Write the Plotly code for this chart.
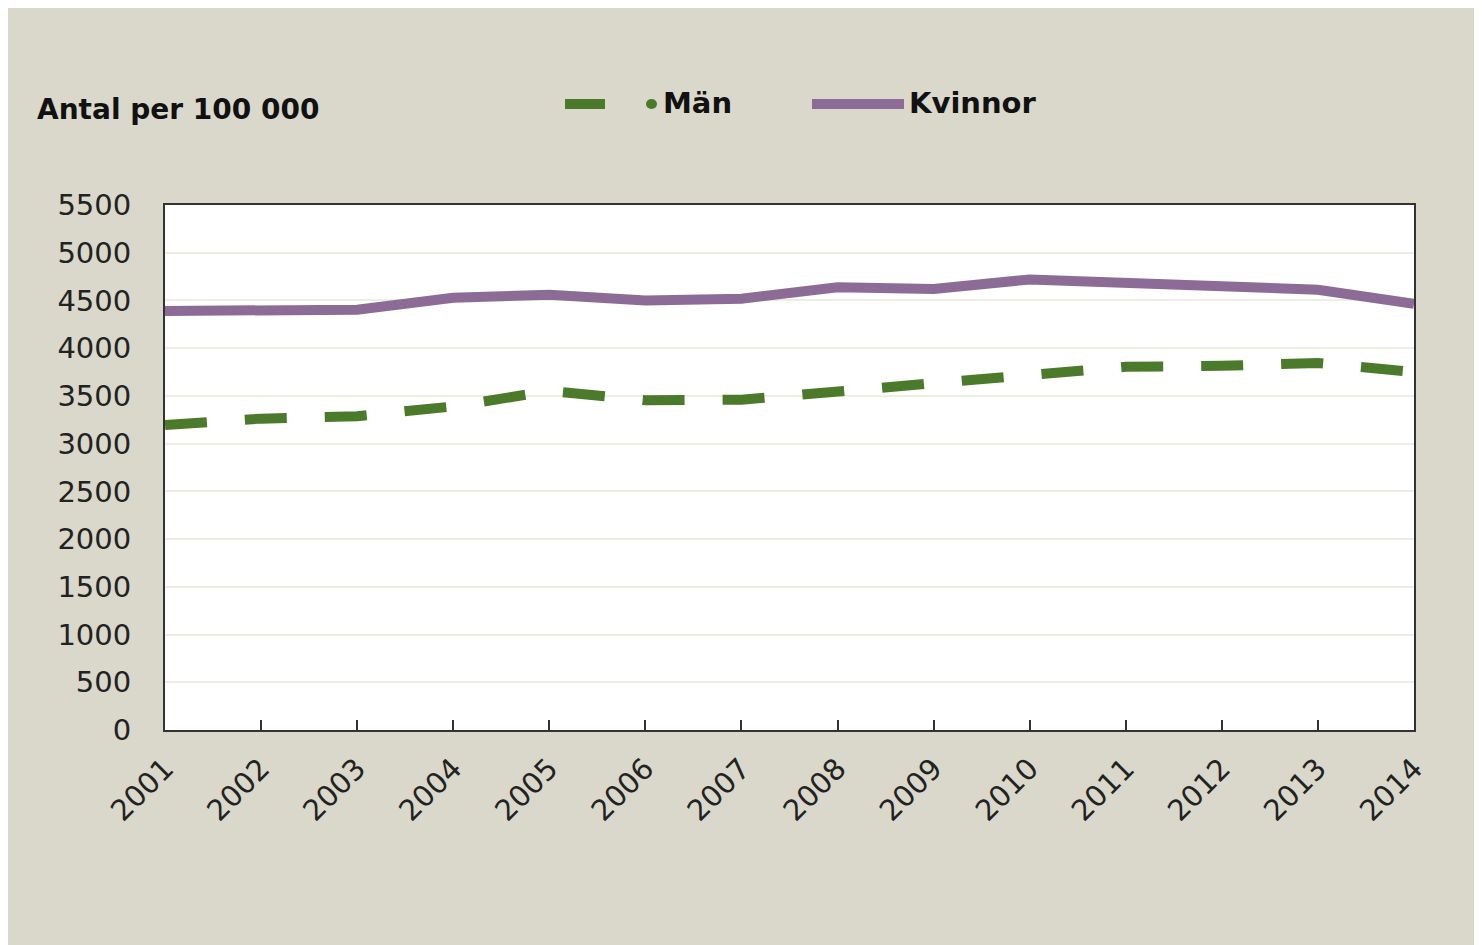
import plotly.graph_objects as go

years = [2001, 2002, 2003, 2004, 2005, 2006, 2007, 2008, 2009, 2010, 2011, 2012, 2013, 2014]
man = [3195, 3262, 3288, 3390, 3552, 3455, 3460, 3545, 3635, 3725, 3805, 3815, 3845, 3750]
kvinnor = [4390, 4390, 4403, 4528, 4560, 4500, 4518, 4638, 4620, 4720, 4682, 4646, 4612, 4465]
y_ticks = [0, 500, 1000, 1500, 2000, 2500, 3000, 3500, 4000, 4500, 5000, 5500]

BG = "#D9D8CB"
GREEN = "#4A7A2A"
PURPLE = "#8C6C97"
FONT = "DejaVu Sans"

# page has an 8px body margin, so the figure starts at (8, 8)
OFF = 8
W, H = 1490, 945
L, R, T, B = 157, 84, 197, 223
PW, PH = W - L - R, H - T - B

def px(x):
    # x in screen pixels -> paper fraction
    return (x - OFF - L) / PW

def py(y):
    return (H - B - (y - OFF)) / PH

fig = go.Figure()
fig.add_trace(go.Scatter(x=years, y=man, mode="lines", name="Män",
                         line=dict(color=GREEN, width=10, dash="42px,38px"),
                         showlegend=False))
fig.add_trace(go.Scatter(x=years, y=kvinnor, mode="lines", name="Kvinnor",
                         line=dict(color=PURPLE, width=10),
                         showlegend=False))

shapes = [
    # custom legend samples
    dict(type="line", xref="paper", yref="paper", x0=px(565), x1=px(605), y0=py(104), y1=py(104),
         line=dict(color=GREEN, width=10)),
    dict(type="circle", xref="paper", yref="paper", x0=px(646), x1=px(657), y0=py(109), y1=py(99),
         fillcolor=GREEN, line=dict(width=0)),
    dict(type="line", xref="paper", yref="paper", x0=px(812), x1=px(904), y0=py(104), y1=py(104),
         line=dict(color=PURPLE, width=10)),
]

annotations = [
    dict(text="<b>Antal per 100 000</b>", xref="paper", yref="paper", x=px(35), y=py(110),
         xanchor="left", yanchor="middle", showarrow=False,
         font=dict(family=FONT, size=28, color="#111111")),
    dict(text="<b>Män</b>", xref="paper", yref="paper", x=px(661), y=py(103),
         xanchor="left", yanchor="middle", showarrow=False,
         font=dict(family=FONT, size=29, color="#111111")),
    dict(text="<b>Kvinnor</b>", xref="paper", yref="paper", x=px(907), y=py(103),
         xanchor="left", yanchor="middle", showarrow=False,
         font=dict(family=FONT, size=29, color="#111111")),
]

fig.update_layout(
    width=W, height=H,
    margin=dict(l=L, r=R, t=T, b=B, pad=0),
    paper_bgcolor=BG,
    plot_bgcolor="white",
    showlegend=False,
    shapes=shapes,
    annotations=annotations,
    font=dict(family=FONT, color="#222222"),
)

fig.update_xaxes(
    range=[2001, 2014], tickmode="array", tickvals=years, ticktext=[str(y) for y in years],
    tickangle=-45, ticks="inside", ticklen=10, tickwidth=2, tickcolor="#333333",
    showline=True, linecolor="#333333", linewidth=2, mirror=True,
    showgrid=False, zeroline=False,
    tickfont=dict(family=FONT, size=29, color="#222222"),
    ticklabelstandoff=8,
)
fig.update_yaxes(
    range=[0, 5500], tickmode="array", tickvals=y_ticks, ticktext=[str(v) for v in y_ticks],
    ticks="", showline=True, linecolor="#333333", linewidth=2, mirror=True,
    showgrid=True, gridcolor="#EEEEE4", gridwidth=1.5, zeroline=False,
    tickfont=dict(family=FONT, size=29, color="#222222"),
    ticklabelstandoff=26,
)

fig.write_html("out.html")
